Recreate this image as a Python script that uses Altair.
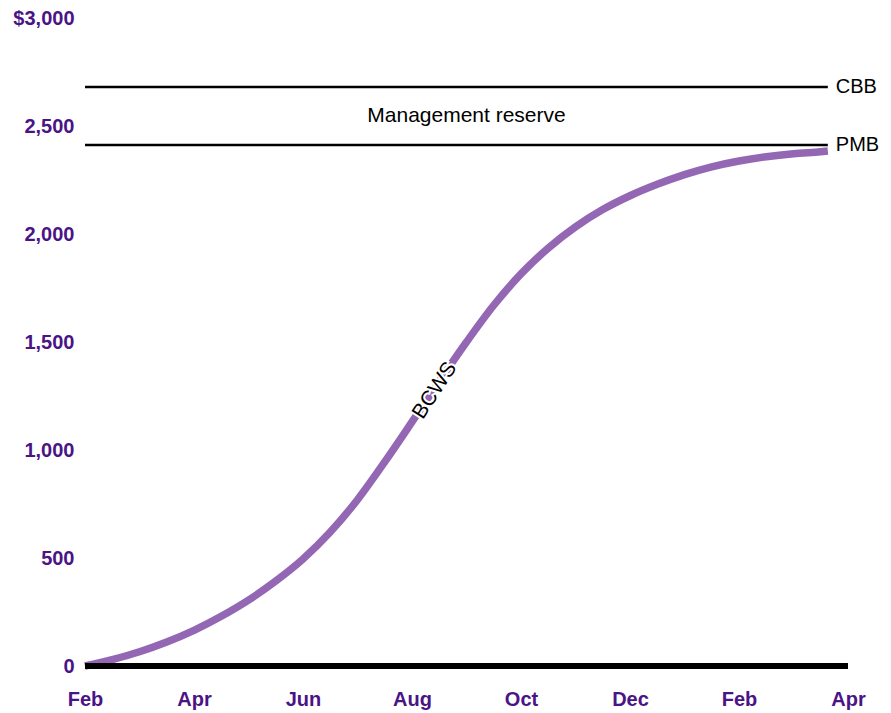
import json
import altair as alt
import pandas as pd

# ---- data ----
months = [0, 0.5, 1, 1.5, 2, 2.5, 3, 3.5, 4, 4.5, 5, 5.5, 6, 6.5, 7, 7.5, 8, 8.5,
          9, 9.5, 10, 10.5, 11, 11.5, 12, 12.5, 13, 13.5, 13.63]
bcws = [0, 30, 66, 111, 165, 230, 305, 393, 495, 620, 770, 945, 1130, 1318, 1500,
        1670, 1815, 1935, 2033, 2113, 2177, 2230, 2275, 2311, 2338, 2358, 2372, 2381, 2384]

tick_values = [0, 2, 4, 6, 8, 10, 12, 14]
tick_labels = ["Feb", "Apr", "Jun", "Aug", "Oct", "Dec", "Feb", "Apr"]
y_ticks = [0, 500, 1000, 1500, 2000, 2500, 3000]

budget_names = ["CBB", "PMB"]
budget_values = [2680, 2412]
line_start = 0
line_end = 13.63

reserve_label = ["Management reserve"]
reserve_pos = [7.0, 2546]
curve_label = ["BCWS"]
curve_label_pos = [6.42, 1275]

PURPLE = "#9467B4"
DARK = "#4A1486"
FONT = "Liberation Sans"

curve_df = pd.DataFrame({"m": months, "v": bcws})
budget_df = pd.DataFrame({"name": budget_names, "v": budget_values,
                          "m0": [line_start] * 2, "m1": [line_end] * 2})
base_df = pd.DataFrame({"m0": [tick_values[0]], "m1": [tick_values[-1]], "v": [0]})
reserve_df = pd.DataFrame({"t": reserve_label, "m": [reserve_pos[0]], "v": [reserve_pos[1]]})
bcws_df = pd.DataFrame({"t": curve_label, "m": [curve_label_pos[0]], "v": [curve_label_pos[1]]})

x_scale = alt.Scale(domain=[tick_values[0], tick_values[-1]], nice=False, zero=False)
y_scale = alt.Scale(domain=[0, 3000], nice=False)

label_expr = json.dumps(tick_labels) + "[round(datum.value/2)]"

x_axis = alt.Axis(values=tick_values, labelExpr=label_expr, title=None, domain=False,
                  ticks=False, grid=False, labelFont=FONT, labelFontSize=20,
                  labelFontWeight="bold", labelColor=DARK, labelPadding=23,
                  labelFlush=False)
y_axis = alt.Axis(values=y_ticks,
                  labelExpr="datum.value == 3000 ? '$3,000' : format(datum.value, ',')",
                  title=None, domain=False, ticks=False, grid=False, labelFont=FONT,
                  labelFontSize=20, labelFontWeight="bold", labelColor=DARK,
                  labelPadding=11, labelFlush=False)

X = alt.X("m:Q", scale=x_scale, axis=x_axis)
Y = alt.Y("v:Q", scale=y_scale, axis=y_axis)

baseline = alt.Chart(base_df).mark_rule(color="black", strokeWidth=6).encode(
    x=alt.X("m0:Q", scale=x_scale, axis=x_axis), x2="m1:Q", y=Y)

budget_lines = alt.Chart(budget_df).mark_rule(color="black", strokeWidth=2.5).encode(
    x=alt.X("m0:Q", scale=x_scale, axis=x_axis), x2="m1:Q", y=Y)

budget_text = alt.Chart(budget_df).mark_text(
    align="left", baseline="middle", dx=8, font=FONT, fontSize=20, color="black"
).encode(x=alt.X("m1:Q", scale=x_scale, axis=x_axis), y=Y, text="name:N")

curve = alt.Chart(curve_df).mark_line(
    color=PURPLE, strokeWidth=7.5, interpolate="monotone", strokeCap="butt"
).encode(x=X, y=Y)

reserve_text = alt.Chart(reserve_df).mark_text(
    align="center", baseline="middle", font=FONT, fontSize=21, color="black"
).encode(x=X, y=Y, text="t:N")

bcws_halo = alt.Chart(bcws_df).mark_text(
    align="center", baseline="middle", font=FONT, fontSize=21, angle=303,
    fill="white", stroke="white", strokeWidth=4
).encode(x=X, y=Y, text="t:N")

bcws_text = alt.Chart(bcws_df).mark_text(
    align="center", baseline="middle", font=FONT, fontSize=21, angle=303, color="black"
).encode(x=X, y=Y, text="t:N")

chart = alt.layer(
    curve, baseline, budget_lines, budget_text, reserve_text, bcws_halo, bcws_text
).properties(
    width=763, height=648,
    autosize=alt.AutoSizeParams(type="none"),
    padding={"left": 77, "top": 10, "right": 35, "bottom": 55},
    background="white",
).configure_view(stroke=None)

chart.save("out.html", embed_options={"renderer": "svg", "actions": False})
